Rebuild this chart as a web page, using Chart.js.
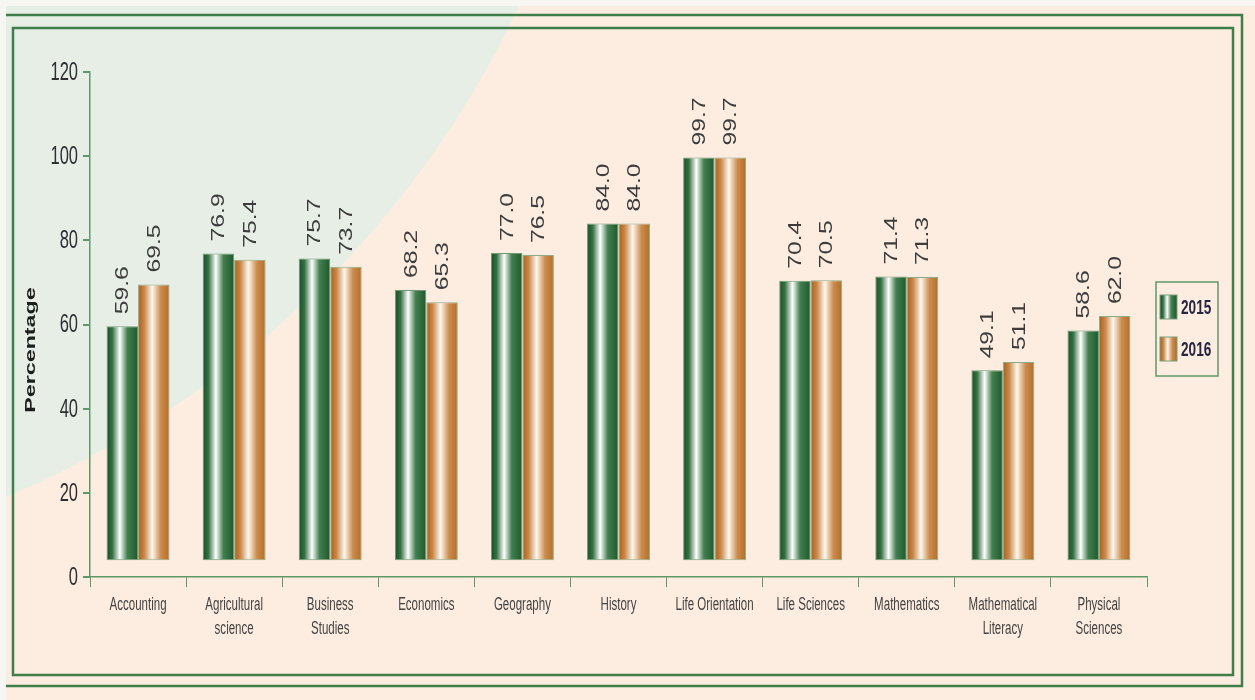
<!DOCTYPE html>
<html>
<head>
<meta charset="utf-8">
<script src="https://cdn.jsdelivr.net/npm/chart.js@4/dist/chart.umd.min.js"></script>
<style>
  html, body { margin: 0; padding: 0; background: #fdede0; }
  #wrap { width: 1255px; height: 700px; position: relative; }
</style>
</head>
<body>
<div id="wrap"><canvas id="passChart" width="1255" height="700"></canvas></div>
<script>
// subjects (multi-line labels as in the report)
const subjects = [
    'Accounting', ['Agricultural', 'science'], ['Business', 'Studies'], 'Economics',
    'Geography', 'History', 'Life Orientation', 'Life Sciences', 'Mathematics',
    ['Mathematical', 'Literacy'], ['Physical', 'Sciences']
];
const years = ['2015', '2016'];
const pass2015 = [59.6, 76.9, 75.7, 68.2, 77.0, 84.0, 99.7, 70.4, 71.4, 49.1, 58.6];
const pass2016 = [69.5, 75.4, 73.7, 65.3, 76.5, 84.0, 99.7, 70.5, 71.3, 51.1, 62.0];
const yTicks = [0, 20, 40, 60, 80, 100, 120];

const axisGreen = '#5f9868';
const frameGreen = '#3f7d4b';
const fontFamily = '"Liberation Sans", Arial, sans-serif';

// cylinder-like shading for each series
const shades = [
    [[0, '#184f27'], [0.18, '#356f42'], [0.42, '#ffffff'], [0.66, '#437f4e'], [1, '#1d582e']],
    [[0, '#ad5d18'], [0.2, '#c8884a'], [0.45, '#fff7ec'], [0.72, '#cb8d50'], [1, '#b46c26']]
];

function makeGradient(ctx, x0, x1, stops) {
    let g = ctx.createLinearGradient(x0, 0, x1, 0);
    stops.forEach(s => g.addColorStop(s[0], s[1]));
    return g;
}

// the original has tall, narrow lettering: draw text squeezed sideways
function squeezedText(ctx, text, x, y, sx, sy) {
    ctx.save();
    ctx.translate(x, y);
    ctx.scale(sx, sy);
    ctx.fillText(text, 0, 0);
    ctx.restore();
}

// background, circle and double frame
const backdropPlugin = {
    id: 'backdrop',
    beforeDraw(chart) {
        const ctx = chart.ctx;
        ctx.save();
        ctx.fillStyle = '#fdede0';
        ctx.fillRect(0, 0, 1255, 700);
        ctx.beginPath();
        ctx.arc(-380, -420, 995, 0, Math.PI * 2);
        ctx.fillStyle = '#e7eee5';
        ctx.fill();
        ctx.fillStyle = '#f6f6f3';
        ctx.fillRect(0, 0, 1255, 6);
        ctx.fillRect(0, 0, 6, 700);

        ctx.strokeStyle = frameGreen;
        ctx.lineWidth = 2.5;
        // outer frame (top, right, bottom)
        ctx.beginPath();
        ctx.moveTo(6, 15);
        ctx.lineTo(1242, 15);
        ctx.lineTo(1242, 686);
        ctx.lineTo(6, 686);
        ctx.stroke();
        // inner frame
        ctx.strokeRect(13, 28, 1220, 647);
        ctx.restore();
    },
    beforeDatasetsDraw(chart) {
        const ctx = chart.ctx;
        chart.data.datasets.forEach((ds, i) => {
            chart.getDatasetMeta(i).data.forEach(bar => {
                const p = bar.getProps(['x', 'width'], true);
                bar.options.backgroundColor = makeGradient(ctx, p.x - p.width / 2, p.x + p.width / 2, shades[i]);
            });
        });
    },
    afterDraw(chart) {
        const ctx = chart.ctx;
        const xScale = chart.scales.x;
        const yScale = chart.scales.y;
        ctx.save();

        // y tick labels
        ctx.fillStyle = '#2e2e33';
        ctx.font = '25px ' + fontFamily;
        ctx.textAlign = 'right';
        ctx.textBaseline = 'middle';
        yTicks.forEach(v => {
            squeezedText(ctx, String(v), 78, yScale.getPixelForValue(v) + 1, 0.66, 1);
        });

        // category labels
        ctx.fillStyle = '#444444';
        ctx.font = '18px ' + fontFamily;
        ctx.textAlign = 'center';
        ctx.textBaseline = 'top';
        subjects.forEach((label, i) => {
            let lines = Array.isArray(label) ? label : [label];
            let x = xScale.getPixelForValue(i);
            lines.forEach((line, k) => {
                squeezedText(ctx, line, x, 596 + k * 24, 0.64, 1);
            });
        });

        // value labels, rotated and stretched like the original
        ctx.fillStyle = '#3c3c3c';
        ctx.font = '18px ' + fontFamily;
        ctx.textAlign = 'left';
        ctx.textBaseline = 'middle';
        chart.data.datasets.forEach((ds, i) => {
            chart.getDatasetMeta(i).data.forEach((bar, j) => {
                ctx.save();
                ctx.translate(bar.x + 1, bar.y - 12);
                ctx.rotate(-Math.PI / 2);
                ctx.scale(1.37, 1);
                ctx.fillText(ds.data[j].toFixed(1), 0, 0);
                ctx.restore();
            });
        });

        // y axis title
        ctx.save();
        ctx.translate(31, 350);
        ctx.rotate(-Math.PI / 2);
        ctx.scale(1.55, 1);
        ctx.font = 'bold 15px ' + fontFamily;
        ctx.fillStyle = '#1e1e1e';
        ctx.textAlign = 'center';
        ctx.fillText('Percentage', 0, 0);
        ctx.restore();

        // legend box
        ctx.strokeStyle = axisGreen;
        ctx.lineWidth = 1.5;
        ctx.strokeRect(1156, 282, 62, 94);
        chart.data.datasets.forEach((ds, i) => {
            const top = 295 + i * 42;
            ctx.fillStyle = makeGradient(ctx, 1160, 1177, shades[i]);
            ctx.fillRect(1160, top, 17, 24);
            ctx.strokeStyle = '#7a9f7c';
            ctx.lineWidth = 1;
            ctx.strokeRect(1160, top, 17, 24);
            ctx.fillStyle = '#262640';
            ctx.font = 'bold 20px ' + fontFamily;
            ctx.textAlign = 'left';
            ctx.textBaseline = 'middle';
            squeezedText(ctx, ds.label, 1181, top + 13, 0.68, 1);
        });
        ctx.restore();
    }
};

new Chart(document.getElementById('passChart'), {
    type: 'bar',
    data: {
        labels: subjects,
        datasets: [{
            label: years[0],
            data: pass2015,
            base: 4,
            backgroundColor: () => '#2f6e3e',
            borderColor: '#6f9a72',
            borderWidth: 1,
            borderSkipped: false,
            categoryPercentage: 0.655,
            barPercentage: 1,
        }, {
            label: years[1],
            data: pass2016,
            base: 4,
            backgroundColor: () => '#c27a36',
            borderColor: '#8faa86',
            borderWidth: 1,
            borderSkipped: false,
            categoryPercentage: 0.655,
            barPercentage: 1,
        }],
    },
    options: {
        responsive: false,
        animation: false,
        layout: { padding: { top: 72, right: 108, bottom: 0, left: 0 } },
        plugins: {
            legend: { display: false },
            tooltip: { enabled: false },
        },
        scales: {
            x: {
                afterFit: (axis) => { axis.height = 123; },
                border: { color: axisGreen, width: 1.5 },
                grid: {
                    drawOnChartArea: false,
                    tickLength: 10,
                    color: axisGreen,
                    offset: true,
                },
                ticks: { display: false },
            },
            y: {
                min: yTicks[0],
                max: yTicks[yTicks.length - 1],
                afterFit: (axis) => { axis.width = 90; },
                afterBuildTicks: (axis) => { axis.ticks = yTicks.map(v => ({ value: v })); },
                border: { color: axisGreen, width: 1.5 },
                grid: {
                    drawOnChartArea: false,
                    tickLength: 7,
                    color: axisGreen,
                    lineWidth: 2,
                },
                ticks: { display: false },
            },
        },
    },
    plugins: [backdropPlugin],
});
</script>
</body>
</html>
